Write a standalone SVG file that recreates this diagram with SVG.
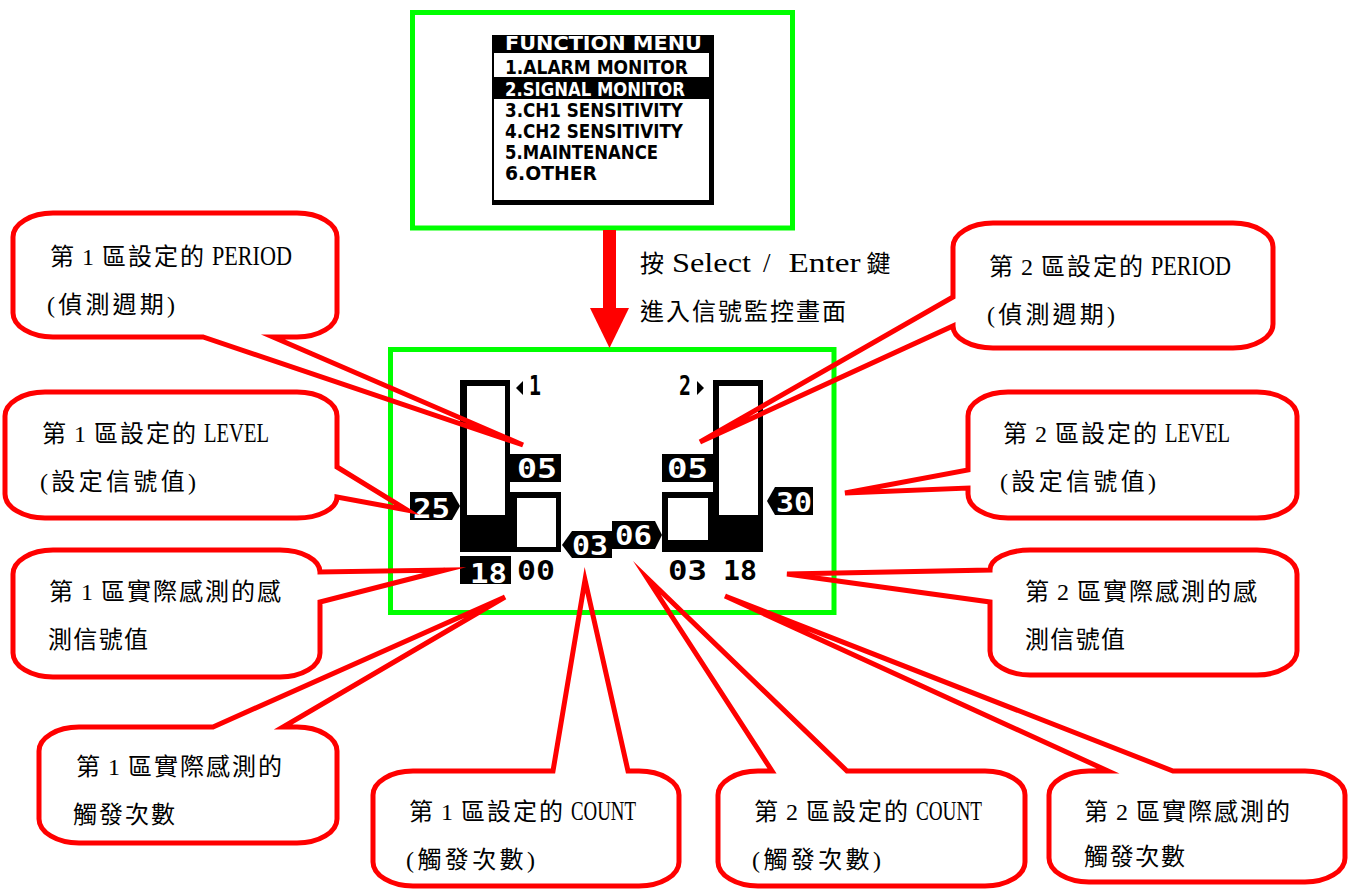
<svg xmlns="http://www.w3.org/2000/svg" width="1354" height="890" viewBox="0 0 1354 890">
<style>
.callout{fill:none;stroke:#ff0000;stroke-width:5;stroke-linejoin:miter;stroke-miterlimit:10}
.green{fill:none;stroke:#00ff00;stroke-width:5}
.lbl{font-family:"Liberation Serif","Noto Sans CJK TC",serif;font-size:24px;fill:#000;letter-spacing:2px;word-spacing:-2px}
.lat{font-size:27px;letter-spacing:0}
.lcd{font-family:"DejaVu Sans Mono",monospace;font-weight:bold;font-size:27px}
.menu{font-family:"DejaVu Sans",sans-serif;font-size:19px;font-weight:bold}
.w{fill:#fff}
.k{fill:#000}
</style>
<rect width="1354" height="890" fill="#fff"/>

<g id="menu-screen">
<rect class="green" x="412.5" y="12.5" width="380" height="215.5"/>
<rect x="492" y="35" width="222" height="170" fill="#000"/>
<rect x="494" y="53" width="215" height="24" fill="#fff"/>
<rect x="494" y="99" width="215" height="101" fill="#fff"/>
<text class="menu w" x="505" y="50" font-size="16" textLength="197" lengthAdjust="spacingAndGlyphs">FUNCTION MENU</text>
<text class="menu k" x="505" y="74" textLength="183" lengthAdjust="spacingAndGlyphs">1.ALARM MONITOR</text>
<text class="menu w" x="505" y="96" textLength="180" lengthAdjust="spacingAndGlyphs">2.SIGNAL MONITOR</text>
<text class="menu k" x="505" y="117" textLength="178" lengthAdjust="spacingAndGlyphs">3.CH1 SENSITIVITY</text>
<text class="menu k" x="505" y="138" textLength="178" lengthAdjust="spacingAndGlyphs">4.CH2 SENSITIVITY</text>
<text class="menu k" x="505" y="159" textLength="153" lengthAdjust="spacingAndGlyphs">5.MAINTENANCE</text>
<text class="menu k" x="505" y="180" textLength="92" lengthAdjust="spacingAndGlyphs">6.OTHER</text>
</g>

<g id="monitor-screen">
<rect class="green" x="390.5" y="349.5" width="443.5" height="263"/>
<rect x="460" y="380" width="50" height="172" fill="#000"/>
<rect x="467" y="386" width="38" height="129" fill="#fff"/>
<rect x="510" y="492" width="51" height="60" fill="#000"/>
<rect x="517" y="498" width="39" height="49" fill="#fff"/>
<rect x="510" y="454" width="51" height="28" fill="#000"/>
<text class="lcd w" x="517" y="478" textLength="40" lengthAdjust="spacingAndGlyphs">05</text>
<polygon points="516,388 523,381 523,395" fill="#000"/>
<text class="lcd k" x="529" y="395" font-size="17" textLength="12" lengthAdjust="spacingAndGlyphs">1</text>
<polygon points="410,492 452,492 460,506 452,520 410,520" fill="#000"/>
<text class="lcd w" x="413" y="518" textLength="37" lengthAdjust="spacingAndGlyphs">25</text>
<rect x="460" y="556" width="51" height="28" fill="#000"/>
<text class="lcd w" x="470" y="583" textLength="37" lengthAdjust="spacingAndGlyphs">18</text>
<text class="lcd k" x="517" y="580" textLength="38" lengthAdjust="spacingAndGlyphs">00</text>
<polygon points="562,545 572,531 612,531 612,558 572,558" fill="#000"/>
<text class="lcd w" x="572" y="555" textLength="36" lengthAdjust="spacingAndGlyphs">03</text>
<polygon points="612,521 655,521 662,535 655,549 612,549" fill="#000"/>
<text class="lcd w" x="615" y="545" textLength="37" lengthAdjust="spacingAndGlyphs">06</text>
<rect x="713" y="380" width="50" height="172" fill="#000"/>
<rect x="719" y="386" width="39" height="129" fill="#fff"/>
<rect x="662" y="492" width="51" height="60" fill="#000"/>
<rect x="668" y="498" width="40" height="42" fill="#fff"/>
<rect x="662" y="454" width="51" height="28" fill="#000"/>
<text class="lcd w" x="667" y="478" textLength="41" lengthAdjust="spacingAndGlyphs">05</text>
<text class="lcd k" x="679" y="395" font-size="17" textLength="12" lengthAdjust="spacingAndGlyphs">2</text>
<polygon points="697,381 704,388 697,395" fill="#000"/>
<polygon points="767,501 775,487 813,487 813,515 775,515" fill="#000"/>
<text class="lcd w" x="776" y="512" textLength="36" lengthAdjust="spacingAndGlyphs">30</text>
<text class="lcd k" x="668" y="580" textLength="39" lengthAdjust="spacingAndGlyphs">03</text>
<text class="lcd k" x="723" y="580" textLength="34" lengthAdjust="spacingAndGlyphs">18</text>
</g>

<g id="connectors">
<rect x="603" y="230" width="13" height="79" fill="#ff0000"/>
<polygon points="590,308 629,308 609.5,348" fill="#ff0000"/>
</g>

<g id="step-label">
<text class="lbl" x="640" y="272">按 <tspan class="lat" textLength="79" lengthAdjust="spacingAndGlyphs">Select</tspan> <tspan class="lat" dx="6">/</tspan> <tspan class="lat" dx="12" textLength="72" lengthAdjust="spacingAndGlyphs">Enter</tspan> 鍵</text>
<text class="lbl" x="640" y="320" textLength="208">進入信號監控畫面</text>
</g>

<g id="c1-period">
<path class="callout" d="M53,213 H297 A40,24 0 0 1 337,237 V313 A40,24 0 0 1 297,337 H273 L523,445 L203,337 H53 A40,24 0 0 1 13,313 V237 A40,24 0 0 1 53,213 Z"/>
<text class="lbl" x="50" y="265">第 1 區設定的 <tspan class="lat" textLength="80" lengthAdjust="spacingAndGlyphs">PERIOD</tspan></text>
<text class="lbl" x="47" y="313" textLength="130">(偵測週期)</text>
</g>

<g id="c2-period">
<path class="callout" d="M993,223 H1233 A40,24 0 0 1 1273,247 V324 A40,24 0 0 1 1233,348 H993 A40,22 0 0 1 953,326 L700,442 L953,297 V247 A40,24 0 0 1 993,223 Z"/>
<text class="lbl" x="989" y="275">第 2 區設定的 <tspan class="lat" textLength="80" lengthAdjust="spacingAndGlyphs">PERIOD</tspan></text>
<text class="lbl" x="987" y="323" textLength="130">(偵測週期)</text>
</g>

<g id="c1-level">
<path class="callout" d="M45,392 H297 A40,24 0 0 1 337,416 V467 L407,510 L337,497 A40,21 0 0 1 297,518 H45 A40,24 0 0 1 5,494 V416 A40,24 0 0 1 45,392 Z"/>
<text class="lbl" x="42" y="442">第 1 區設定的 <tspan class="lat" textLength="65" lengthAdjust="spacingAndGlyphs">LEVEL</tspan></text>
<text class="lbl" x="40" y="490" textLength="158">(設定信號值)</text>
</g>

<g id="c2-level">
<path class="callout" d="M1008,392 H1257 A40,24 0 0 1 1297,416 V494 A40,24 0 0 1 1257,518 H1008 A40,24 0 0 1 968,494 V488 L845,493 L968,470 V416 A40,24 0 0 1 1008,392 Z"/>
<text class="lbl" x="1003" y="442">第 2 區設定的 <tspan class="lat" textLength="65" lengthAdjust="spacingAndGlyphs">LEVEL</tspan></text>
<text class="lbl" x="1000" y="490" textLength="158">(設定信號值)</text>
</g>

<g id="c1-signal">
<path class="callout" d="M53,550 H280 A40,22 0 0 1 320,572 L445,570 L320,602 V653 A40,24 0 0 1 280,677 H53 A40,24 0 0 1 13,653 V574 A40,24 0 0 1 53,550 Z"/>
<text class="lbl" x="49" y="600">第 1 區實際感測的感</text>
<text class="lbl" x="48" y="648" textLength="102">測信號值</text>
</g>

<g id="c2-signal">
<path class="callout" d="M1030,550 H1257 A40,24 0 0 1 1297,574 V651 A40,24 0 0 1 1257,675 H1030 A40,24 0 0 1 990,651 V602 L787,574 L990,570 A40,20 0 0 1 1030,550 Z"/>
<text class="lbl" x="1025" y="600">第 2 區實際感測的感</text>
<text class="lbl" x="1025" y="648" textLength="102">測信號值</text>
</g>

<g id="c1-trigger">
<path class="callout" d="M79,727 H213 L505,597 L283,727 H297 A40,24 0 0 1 337,751 V819 A40,24 0 0 1 297,843 H79 A40,24 0 0 1 39,819 V751 A40,24 0 0 1 79,727 Z"/>
<text class="lbl" x="76" y="775">第 1 區實際感測的</text>
<text class="lbl" x="73" y="823" textLength="104">觸發次數</text>
</g>

<g id="c1-count">
<path class="callout" d="M413,771 H553 L585,580 L628,771 H639 A40,24 0 0 1 679,795 V862 A40,24 0 0 1 639,886 H413 A40,24 0 0 1 373,862 V795 A40,24 0 0 1 413,771 Z"/>
<text class="lbl" x="409" y="820">第 1 區設定的 <tspan class="lat" textLength="65" lengthAdjust="spacingAndGlyphs">COUNT</tspan></text>
<text class="lbl" x="406" y="868" textLength="131">(觸發次數)</text>
</g>

<g id="c2-count">
<path class="callout" d="M758,771 H772 L647,578 L847,771 H985 A40,24 0 0 1 1025,795 V862 A40,24 0 0 1 985,886 H758 A40,24 0 0 1 718,862 V795 A40,24 0 0 1 758,771 Z"/>
<text class="lbl" x="754" y="820">第 2 區設定的 <tspan class="lat" textLength="66" lengthAdjust="spacingAndGlyphs">COUNT</tspan></text>
<text class="lbl" x="752" y="868" textLength="131">(觸發次數)</text>
</g>

<g id="c2-trigger">
<path class="callout" d="M1089,771 H1108 L725,596 L1173,771 H1305 A40,24 0 0 1 1345,795 V858 A40,24 0 0 1 1305,882 H1089 A40,24 0 0 1 1049,858 V795 A40,24 0 0 1 1089,771 Z"/>
<text class="lbl" x="1084" y="820">第 2 區實際感測的</text>
<text class="lbl" x="1084" y="865" textLength="103">觸發次數</text>
</g>
</svg>
